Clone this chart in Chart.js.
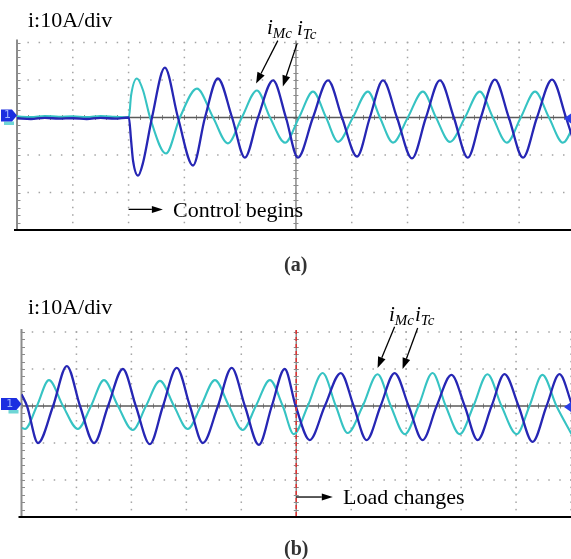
<!DOCTYPE html>
<html>
<head>
<meta charset="utf-8">
<script src="https://cdn.jsdelivr.net/npm/chart.js@4.4.1/dist/chart.umd.min.js"></script>
<style>
  html, body { margin: 0; padding: 0; background: #fff; }
  #wrap { position: relative; width: 571px; height: 559px; background: #fff; overflow: hidden; }
  canvas { position: absolute; left: 0; }
  .t { position: absolute; font-family: "Liberation Serif", "Times New Roman", serif; font-size: 22px; line-height: 1; color: #000; white-space: nowrap; }
  .cap { position: absolute; font-family: "Liberation Serif", "Times New Roman", serif; font-size: 20px; font-weight: bold; line-height: 1; color: #333; }
  .lab { position: absolute; font-family: "Liberation Serif", "Times New Roman", serif; font-size: 21px; font-style: italic; line-height: 1; color: #000; white-space: nowrap; }
  .lab sub { font-size: 15px; vertical-align: -4px; }
</style>
</head>
<body>
<div id="wrap">
  <canvas id="ca" width="571" height="240" style="top:0px;width:571px;height:240px"></canvas>
  <canvas id="cb" width="571" height="250" style="top:280px;width:571px;height:250px"></canvas>

  <div class="t" style="left:28px;top:9px">i:10A/div</div>
  <div class="lab" style="left:267px;top:17px">i<sub>Mc</sub></div>
  <div class="lab" style="left:297px;top:18px">i<sub>Tc</sub></div>
  <div class="t" style="left:173px;top:199px">Control begins</div>
  <div class="cap" style="left:284px;top:254px">(a)</div>

  <div class="t" style="left:28px;top:296px">i:10A/div</div>
  <div class="lab" style="left:389px;top:304px">i<sub>Mc</sub></div>
  <div class="lab" style="left:415px;top:304px">i<sub>Tc</sub></div>
  <div class="t" style="left:343px;top:486px">Load changes</div>
  <div class="cap" style="left:284px;top:538px">(b)</div>
</div>

<script>
// Scope settings: 20 ms per horizontal division, 10 A per vertical division.
const timePerDiv = 20;
const ampPerDiv = 10;

// (a) start-up: [time ms, current A]
const aMc = [
  [0, 0.3], [5, 0.1], [10, 0.4], [15, 0.2], [20, 0.3], [25, 0.1], [30, 0.4], [35, 0.2],
  [40.1, 0], [40.9, 5.9], [43.0, 10.4], [45.2, 7.2], [47.7, 0], [53.4, -9.6], [58.4, 0],
  [64.5, 7.7], [70.3, 0], [75.6, -6.9], [80.6, 0], [86.0, 7.2], [90.7, 0], [96.1, -6.7],
  [101.1, 0], [106.1, 6.9], [110.8, 0], [115.1, -6.5], [120.4, 0], [125.8, 6.9], [130.1, 0],
  [134.8, -6.7], [140.1, 0], [145.5, 6.9], [150.2, 0], [155.2, -6.5], [160.6, 0], [165.9, 6.9],
  [170.6, 0], [175.6, -6.7], [180.6, 0], [185.7, 6.9], [190.7, 0], [195.7, -6.7], [200.7, 0]
];
const aTc = [
  [0, -0.2], [5, -0.4], [10, -0.1], [15, -0.3], [20, -0.2], [25, -0.4], [30, -0.1], [35, -0.3],
  [40.1, 0], [40.9, -6.1], [41.6, -11.5], [43.4, -15.5], [45.2, -12.0], [48.4, 0], [53.0, 13.3],
  [57.7, 0], [63.1, -12.8], [67.4, 0], [72.0, 10.4], [77.1, 0], [81.7, -10.7], [86.4, 0],
  [91.8, 9.9], [96.4, 0], [100.7, -10.7], [106.1, 0], [111.5, 9.9], [116.5, 0], [121.9, -10.4],
  [126.5, 0], [131.2, 9.9], [136.2, 0], [141.6, -10.9], [146.6, 0], [151.6, 9.9], [156.6, 0],
  [161.6, -10.7], [166.3, 0], [171.3, 10.1], [176.3, 0], [181.4, -10.7], [186.4, 0], [191.8, 10.1],
  [196.8, 0], [201.1, -10.1]
];

// (b) load step: [time ms, current A]
const bMc = [
  [0, -5.9], [1.3, -6.2], [5.6, 0], [10.0, 7.0], [15.1, 0], [20.5, -6.2], [25.3, 0], [30.0, 7.0],
  [35.1, 0], [40.5, -6.5], [45.3, 0], [50.4, 6.8], [55.5, 0], [60.5, -6.2], [65.3, 0], [70.4, 7.0],
  [75.5, 0], [80.5, -6.5], [85.3, 0], [90.4, 7.0], [95.1, 0], [99.1, -7.6], [104.2, 0], [109.6, 8.9],
  [114.4, 0], [118.7, -7.3], [124.2, 0], [129.6, 8.6], [134.4, 0], [139.5, -7.6], [144.5, 0],
  [149.6, 8.9], [154.4, 0], [159.5, -7.6], [164.5, 0], [169.6, 8.6], [174.7, 0], [180.2, -7.6],
  [184.9, 0], [189.6, 8.4], [194.7, 0], [200.2, -7.6]
];
const bTc = [
  [0, 3.2], [2.0, 0], [6.0, -10.0], [11.5, 0], [16.5, 10.8], [21.3, 0], [26.4, -10.0], [31.5, 0],
  [36.9, 10.0], [41.6, 0], [46.7, -10.3], [51.5, 0], [56.5, 10.3], [61.3, 0], [66.0, -10.0],
  [71.5, 0], [76.5, 10.3], [81.3, 0], [86.4, -10.5], [91.1, 0], [95.8, 10.0], [99.8, 0],
  [104.9, -9.2], [110.4, 0], [116.2, 8.9], [120.9, 0], [125.6, -9.2], [130.7, 0], [135.8, 8.9],
  [140.9, 0], [146.0, -9.2], [151.1, 0], [156.5, 8.4], [161.3, 0], [166.0, -9.2], [171.1, 0],
  [175.8, 8.6], [180.9, 0], [186.0, -9.7], [191.1, 0], [195.8, 8.6], [200.5, 0]
];

// event times (ms)
const controlStart = 40;
const loadStep = 100;

const BLUE = '#2626b4';
const CYAN = '#36c3c3';

function toXY(pairs) { return pairs.map(p => ({ x: p[0], y: p[1] })); }

function drawArrow(ctx, x1, y1, x2, y2, len, half) {
  const a = Math.atan2(y2 - y1, x2 - x1);
  const bx = x2 - len * Math.cos(a), by = y2 - len * Math.sin(a);
  ctx.beginPath();
  ctx.moveTo(x1, y1);
  ctx.lineTo(bx, by);
  ctx.stroke();
  ctx.beginPath();
  ctx.moveTo(x2, y2);
  ctx.lineTo(bx + half * Math.sin(a), by - half * Math.cos(a));
  ctx.lineTo(bx - half * Math.sin(a), by + half * Math.cos(a));
  ctx.closePath();
  ctx.fill();
}

// oscilloscope graticule, channel markers and annotation arrows
function scopePlugin(cfg) {
  return {
    id: 'scope',
    beforeDatasetsDraw(chart) {
      const { ctx, chartArea: { left, right, top, bottom }, scales: { x, y } } = chart;
      const xmax = x.max, ymin = y.min, ymax = y.max;
      ctx.save();
      // dotted division lines
      ctx.fillStyle = '#a4a4a4';
      for (let v = ymin + ampPerDiv; v <= ymax; v += ampPerDiv) {
        if (v === 0) continue;
        const py = y.getPixelForValue(v);
        for (let t = 0; t <= xmax; t += timePerDiv / 5) {
          ctx.fillRect(x.getPixelForValue(t) - 0.75, py - 0.75, 1.5, 1.5);
        }
      }
      for (let t = timePerDiv; t <= xmax; t += timePerDiv) {
        if (t === 100) continue;
        const px = x.getPixelForValue(t);
        for (let v = ymin; v <= ymax; v += ampPerDiv / 5) {
          ctx.fillRect(px - 0.75, y.getPixelForValue(v) - 0.75, 1.5, 1.5);
        }
      }
      // centre cross with minor ticks
      const y0 = y.getPixelForValue(0);
      const xc = x.getPixelForValue(100);
      ctx.strokeStyle = '#8a8a8a';
      ctx.lineWidth = 1.5;
      ctx.beginPath(); ctx.moveTo(xc, top - 2); ctx.lineTo(xc, bottom); ctx.stroke();
      ctx.lineWidth = 1;
      for (let v = ymin; v <= ymax; v += ampPerDiv / 5) {
        const py = Math.round(y.getPixelForValue(v)) + 0.5;
        ctx.beginPath(); ctx.moveTo(xc - 2.5, py); ctx.lineTo(xc + 2.5, py); ctx.stroke();
      }
      for (let t = 0; t <= xmax; t += timePerDiv / 5) {
        const px = Math.round(x.getPixelForValue(t)) + 0.5;
        ctx.beginPath(); ctx.moveTo(px, y0 - 2.5); ctx.lineTo(px, y0 + 2.5); ctx.stroke();
      }
      ctx.strokeStyle = '#5a5a5a';
      ctx.lineWidth = 1.6;
      ctx.beginPath(); ctx.moveTo(left, y0); ctx.lineTo(right, y0); ctx.stroke();
      // left border with ticks
      ctx.strokeStyle = '#8c8c8c';
      ctx.lineWidth = 2;
      ctx.beginPath(); ctx.moveTo(left, top - 3); ctx.lineTo(left, bottom); ctx.stroke();
      ctx.lineWidth = 1;
      for (let v = ymin; v <= ymax; v += ampPerDiv / 5) {
        const py = Math.round(y.getPixelForValue(v)) + 0.5;
        ctx.beginPath(); ctx.moveTo(left, py); ctx.lineTo(left + 3.5, py); ctx.stroke();
      }
      // bottom border
      ctx.strokeStyle = '#000';
      ctx.lineWidth = 2;
      ctx.beginPath(); ctx.moveTo(left - 3, bottom); ctx.lineTo(right, bottom); ctx.stroke();
      ctx.restore();
    },
    afterDatasetsDraw(chart) {
      const { ctx, chartArea: { left, right, top, bottom }, scales: { x, y } } = chart;
      const y0 = y.getPixelForValue(0);
      ctx.save();
      if (cfg.redLine !== undefined) {
        const px = x.getPixelForValue(cfg.redLine);
        ctx.strokeStyle = '#e03232';
        ctx.lineWidth = 1.5;
        ctx.setLineDash([4, 3]);
        ctx.beginPath(); ctx.moveTo(px, top - 2); ctx.lineTo(px, bottom); ctx.stroke();
        ctx.setLineDash([]);
      }
      // channel 2 and channel 1 ground markers
      ctx.fillStyle = '#6fd6d6';
      ctx.fillRect(left - 13, y0 + 4, 10, 3.5);
      ctx.fillStyle = '#1c2ee0';
      ctx.beginPath();
      ctx.moveTo(1, y0 - 8); ctx.lineTo(left - 5, y0 - 8); ctx.lineTo(left, y0 - 2);
      ctx.lineTo(left - 5, y0 + 4); ctx.lineTo(1, y0 + 4); ctx.closePath(); ctx.fill();
      ctx.fillStyle = '#9fb4ff';
      ctx.font = '11px "DejaVu Sans", sans-serif';
      ctx.textAlign = 'center'; ctx.textBaseline = 'middle';
      ctx.fillText('1', (left - 4) / 2 + 1, y0 - 2);
      // trigger marker at right edge
      ctx.fillStyle = '#2a3ee8';
      ctx.beginPath();
      ctx.moveTo(right - 7, y0 + 1); ctx.lineTo(right, y0 - 4); ctx.lineTo(right, y0 + 6);
      ctx.closePath(); ctx.fill();
      // annotation arrows
      ctx.strokeStyle = '#000';
      ctx.fillStyle = '#000';
      ctx.lineWidth = 1.3;
      cfg.arrows.forEach(a => {
        drawArrow(ctx, x.getPixelForValue(a[0]), y.getPixelForValue(a[1]),
                  x.getPixelForValue(a[2]), y.getPixelForValue(a[3]), a[4], a[5]);
      });
      ctx.restore();
    }
  };
}

function makeScope(id, mc, tc, xmax, padding, cfg) {
  return new Chart(document.getElementById(id), {
    type: 'line',
    data: {
      datasets: [
        { label: 'iTc', data: toXY(tc), borderColor: BLUE, borderWidth: 2.3, pointRadius: 0,
          cubicInterpolationMode: 'monotone', fill: false },
        { label: 'iMc', data: toXY(mc), borderColor: CYAN, borderWidth: 2.1, pointRadius: 0,
          cubicInterpolationMode: 'monotone', fill: false }
      ]
    },
    options: {
      responsive: false,
      animation: false,
      devicePixelRatio: 1,
      layout: { padding },
      plugins: { legend: { display: false }, tooltip: { enabled: false } },
      scales: {
        x: { type: 'linear', min: 0, max: xmax, display: false },
        y: { type: 'linear', min: -3 * ampPerDiv, max: 2 * ampPerDiv, display: false }
      }
    },
    plugins: [scopePlugin(cfg)]
  });
}

makeScope('ca', aMc, aTc, 198.6, { left: 17, top: 42.5, right: 0, bottom: 10 }, {
  arrows: [
    [controlStart, -24.5, 52.3, -24.5, 11, 3.5],
    [93.5, 20.5, 85.7, 9.1, 11, 4],
    [100.4, 19.7, 95.3, 8.3, 11, 4]
  ]
});

makeScope('cb', bMc, bTc, 200, { left: 21.5, top: 52, right: 0, bottom: 13 }, {
  redLine: loadStep,
  arrows: [
    [loadStep, -24.6, 113.3, -24.6, 11, 3.5],
    [135.8, 21.4, 129.6, 10.3, 11, 4],
    [144.2, 21.1, 138.7, 10.0, 11, 4]
  ]
});
</script>
</body>
</html>
